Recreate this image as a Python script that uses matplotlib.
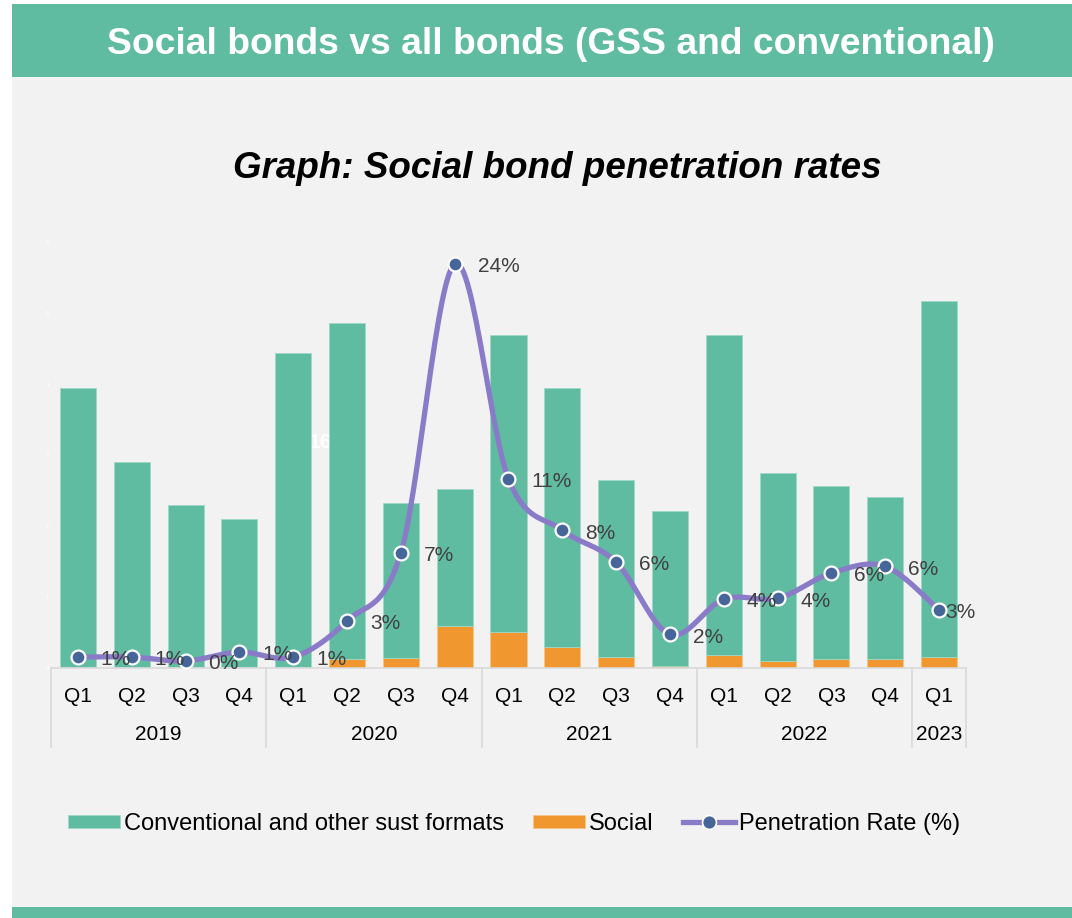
import numpy as np
import matplotlib
matplotlib.use("Agg")
import matplotlib.pyplot as plt
from matplotlib.patches import Rectangle
from matplotlib.lines import Line2D
import matplotlib.transforms as mtransforms

# ---------------- data ----------------
quarters = ["Q1", "Q2", "Q3", "Q4", "Q1", "Q2", "Q3", "Q4", "Q1", "Q2", "Q3", "Q4",
            "Q1", "Q2", "Q3", "Q4", "Q1"]
years = ["2019", "2020", "2021", "2022", "2023"]
year_counts = [4, 4, 4, 4, 1]
conventional = [3.92, 2.88, 2.29, 2.08, 4.42, 4.73, 2.18, 1.93, 4.18, 3.64, 2.50, 2.18,
                4.51, 2.65, 2.43, 2.28, 5.02]
social = [0.02, 0.02, 0.01, 0.02, 0.02, 0.13, 0.14, 0.59, 0.51, 0.30, 0.15, 0.03,
          0.18, 0.10, 0.13, 0.13, 0.15]
penetration = [0.65, 0.65, 0.42, 0.95, 0.65, 2.8, 6.85, 24.05, 11.25, 8.2, 6.3, 2.0,
               4.1, 4.15, 5.65, 6.05, 3.45]
y_ticks = [0, 1, 2, 3, 4, 5, 6]

# ---------------- style ----------------
GREEN = "#5fbca0"
ORANGE = "#f0972f"
PURPLE = "#8a7bc8"
MARKER = "#46669a"
BG = "#f2f2f2"
FONT = ["Liberation Sans", "DejaVu Sans"]
plt.rcParams["font.family"] = FONT

W, H = 1072, 918
fig = plt.figure(figsize=(W / 100, H / 100), dpi=100, facecolor="white")


def fx(px):
    return px / W


def fy(py):
    return 1 - py / H


# background panels
fig.add_artist(Rectangle((fx(12), fy(918)), 1 - fx(12), (918 - 4) / H,
                         transform=fig.transFigure, facecolor=BG, edgecolor="none", zorder=-10))
fig.add_artist(Rectangle((fx(12), fy(77)), 1 - fx(12), (77 - 4) / H,
                         transform=fig.transFigure, facecolor=GREEN, edgecolor="none", zorder=-9))
fig.add_artist(Rectangle((fx(12), fy(918)), 1 - fx(12), (918 - 907) / H,
                         transform=fig.transFigure, facecolor=GREEN, edgecolor="none", zorder=-9))

fig.text(fx(551), fy(45), "Social bonds vs all bonds (GSS and conventional)", color="white",
         fontsize=26.8, fontweight="bold", ha="center", va="center")
fig.text(fx(557), fy(168), "Graph: Social bond penetration rates", color="black",
         fontsize=26.5, fontweight="bold", fontstyle="italic", ha="center", va="center")

# ---------------- axes ----------------
ax_left, ax_right, ax_bottom, ax_top = 51, 966, 668, 242
ax = fig.add_axes([fx(ax_left), fy(ax_bottom), (ax_right - ax_left) / W, (ax_bottom - ax_top) / H])
ax.patch.set_visible(False)
x = np.arange(len(quarters))
bw = 0.67
b1 = ax.bar(x, social, width=bw, color=ORANGE, edgecolor="#f6c48a", linewidth=0.5,
            label="Social", zorder=2)
b2 = ax.bar(x, conventional, width=bw, bottom=social, color=GREEN, edgecolor="#9fd8c5",
            linewidth=0.6, label="Conventional and other sust formats", zorder=2)
ax.set_xlim(-0.5, len(quarters) - 0.5)
ax.set_ylim(0, 6)
ax.set_yticks(y_ticks)
ax.set_yticklabels([str(v) for v in y_ticks], color="white", fontsize=4)
ax.tick_params(axis="y", length=0, pad=1.5)
ax.set_xticks([])
for s in ["top", "right", "left"]:
    ax.spines[s].set_visible(False)
ax.spines["bottom"].set_color("#d9d9d9")
ax.spines["bottom"].set_linewidth(1.2)

# faint hidden label behind bars
ax.text(fx(320), fy(443), "16", transform=fig.transFigure, color="white", fontsize=15,
        fontweight="bold", ha="center", va="center", zorder=0.5)

# multi-level category axis
trans = mtransforms.blended_transform_factory(ax.transData, ax.transAxes)
ax_h = ax_bottom - ax_top
for xi, q in zip(x, quarters):
    ax.text(xi, -(697 - ax_bottom) / ax_h, q, transform=trans, ha="center", va="center",
            fontsize=15, color="black")
start = 0
bounds = [-0.5]
for yr, n in zip(years, year_counts):
    ax.text(start + (n - 1) / 2, -(735 - ax_bottom) / ax_h, yr, transform=trans, ha="center",
            va="center", fontsize=15, color="black")
    start += n
    bounds.append(start - 0.5)
for bx in bounds:
    ax.plot([bx, bx], [0, -(747 - ax_bottom) / ax_h], transform=trans, color="#d9d9d9",
            lw=1.2, clip_on=False, zorder=1)

# ---------------- penetration line ----------------
ax2 = ax.twinx()
ax2.set_ylim(0, (ax_bottom - ax_top) / 16.8)
ax2.axis("off")


def smooth_path(xs, ys, steps=30):
    xs = np.asarray(xs, float)
    ys = np.asarray(ys, float)
    n = len(xs)
    px, py = [], []
    for i in range(n - 1):
        i0 = max(i - 1, 0)
        i3 = min(i + 2, n - 1)
        c1x = xs[i] + (xs[i + 1] - xs[i0]) / 6
        c1y = ys[i] + (ys[i + 1] - ys[i0]) / 6
        c2x = xs[i + 1] - (xs[i3] - xs[i]) / 6
        c2y = ys[i + 1] - (ys[i3] - ys[i]) / 6
        t = np.linspace(0, 1, steps, endpoint=(i == n - 2))
        a = (1 - t) ** 3
        b = 3 * (1 - t) ** 2 * t
        c = 3 * (1 - t) * t ** 2
        d = t ** 3
        px.append(a * xs[i] + b * c1x + c * c2x + d * xs[i + 1])
        py.append(a * ys[i] + b * c1y + c * c2y + d * ys[i + 1])
    return np.concatenate(px), np.concatenate(py)


sx, sy = smooth_path(x, penetration)
ax2.plot(sx, sy, color=PURPLE, lw=3.8, solid_capstyle="round", clip_on=False, zorder=3)
ax2.plot(x, penetration, linestyle="none", marker="o", ms=10, mfc=MARKER, mec="white",
         mew=1.6, clip_on=False, zorder=4)
for i, (xi, v) in enumerate(zip(x, penetration)):
    dx = 16.5 if i < len(x) - 1 else 4.5
    ax2.annotate(f"{v:.0f}%", (xi, v), xytext=(dx, -2.0), textcoords="offset points",
                 ha="left", va="center", fontsize=15, color="#404040", zorder=5,
                 annotation_clip=False)

# ---------------- legend ----------------
line_handle = Line2D([], [], color=PURPLE, lw=3.8, marker="o", ms=10, mfc=MARKER, mec="white",
                     mew=1.2)
leg = fig.legend([b2, b1, line_handle],
                 ["Conventional and other sust formats", "Social", "Penetration Rate (%)"],
                 loc="center", bbox_to_anchor=(fx(514), fy(824)), ncol=3, frameon=False,
                 fontsize=17, handlelength=2.2, handleheight=0.5, handletextpad=0.17,
                 columnspacing=1.23)

fig.savefig("out.png", dpi=100, facecolor="white")
